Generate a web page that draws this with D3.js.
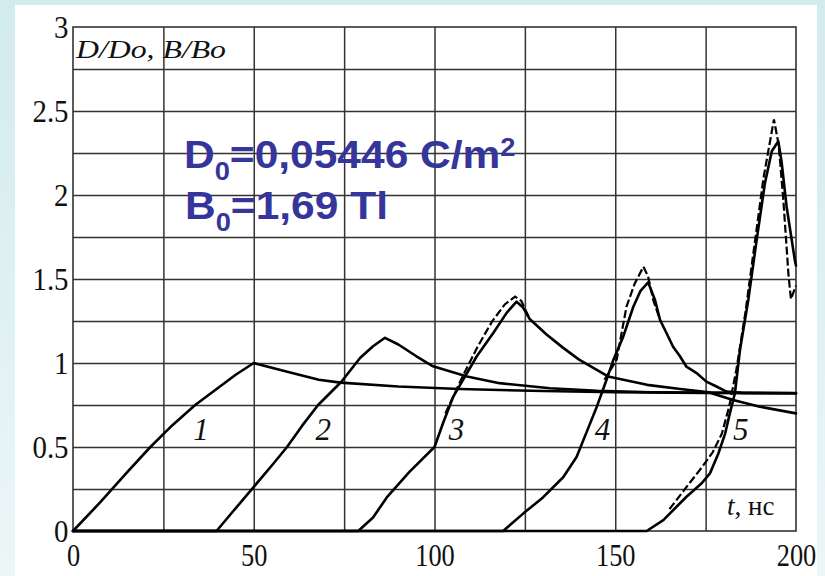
<!DOCTYPE html>
<html>
<head>
<meta charset="utf-8">
<script src="https://cdn.jsdelivr.net/npm/d3@7"></script>
<style>
  html, body { margin: 0; padding: 0; background: #fff; }
  svg { display: block; }
</style>
</head>
<body>
<svg id="chart" width="825" height="576"></svg>
<script>
// Normalised induction D/D0 and field B/B0 versus time t (ns), pulses 1..5
const xTicks = [0, 50, 100, 150, 200];
const yTicks = [0, 0.5, 1, 1.5, 2, 2.5, 3];
const curveNames = ["1", "2", "3", "4", "5"];

// solid curves: [t, value]
const curve1 = [[0,0],[7.5,0.17],[15,0.35],[21.4,0.5],[27.5,0.63],[33.8,0.75],[40,0.85],[45,0.93],[50,1.0],
  [59,0.95],[68,0.9],[74,0.883],[90,0.86],[107,0.845],[130,0.833],[150,0.826],[175,0.822],[200,0.82]];
const curve2 = [[0,0],[39.7,0],[44,0.11],[49.9,0.26],[55,0.39],[59.2,0.5],[63.5,0.63],[67.8,0.75],[74.3,0.89],
  [79.4,1.03],[83,1.1],[86.3,1.15],[90,1.11],[95,1.04],[99.6,0.98],[109,0.92],[118,0.88],[132,0.85],
  [145,0.835],[160,0.826],[200,0.82]];
const curve3 = [[0,0],[78.9,0],[83,0.08],[86.8,0.2],[93,0.35],[100,0.5],[102.5,0.65],[105.2,0.8],[107.9,0.9],
  [111.7,1.04],[116.3,1.18],[120,1.3],[122.7,1.365],[124.5,1.33],[126.4,1.26],[131,1.17],[135.6,1.09],
  [140,1.02],[148,0.92],[158.8,0.87],[168,0.845],[176,0.825],[182.6,0.78],[190,0.74],[200,0.7]];
const curve4 = [[0,0],[119,0],[124.6,0.105],[130,0.2],[135.6,0.32],[139.3,0.44],[142.1,0.59],[144.9,0.74],
  [147.6,0.9],[149.5,1.02],[152.2,1.157],[155,1.335],[157,1.43],[159.1,1.48],[161,1.375],[162.4,1.256],
  [164.2,1.177],[166,1.097],[167.9,1.04],[169.7,0.978],[172.5,0.94],[175.2,0.889],[178,0.86],[180.8,0.83],
  [185,0.822],[200,0.821]];
const curve5 = [[0,0],[158.7,0],[163.3,0.065],[169.7,0.204],[173.9,0.284],[176.2,0.343],[178.5,0.46],
  [180.4,0.58],[181.7,0.7],[183.1,0.82],[184.5,1.077],[186.8,1.375],[189.1,1.73],[191.4,2.07],[193.3,2.26],
  [195.1,2.32],[196,2.2],[197.4,1.93],[199.7,1.61],[200,1.58]];

// dashed companions where they separate from the solid curves
const dashed3 = [[103,0.7],[108,0.93],[112,1.1],[116,1.25],[119.5,1.35],[122.3,1.395],[124,1.37],[126.4,1.26]];
const dashed4 = [[147,0.9],[150.4,1.02],[153.1,1.335],[155.4,1.474],[157.8,1.573],[159.1,1.514],[160.5,1.375],[162.4,1.256]];
const dashed5 = [[165,0.13],[170,0.27],[174,0.38],[177,0.47],[179.5,0.58],[181.5,0.74],[183.5,0.96],
  [186,1.3],[188.5,1.7],[191,2.1],[193.9,2.45],[195.2,2.3],[196.5,1.97],[197.9,1.53],[198.6,1.38],
  [199.3,1.42],[200,1.46]];

const solidCurves = [curve1, curve2, curve3, curve4, curve5];
const dashedCurves = [dashed3, dashed4, dashed5];

// curve numbers placed next to the rising branches (t, value of baseline)
const curveLabelAt = [[35.4,0.54],[69.2,0.54],[106.1,0.54],[146.5,0.54],[184.7,0.54]];

const svg = d3.select("#chart");
const W = 825, H = 576;

// backdrop
const defs = svg.append("defs");
const g0 = defs.append("linearGradient").attr("id","bg").attr("x1",0).attr("y1",0).attr("x2",0).attr("y2",1);
g0.append("stop").attr("offset","0%").attr("stop-color","#d2ebee");
g0.append("stop").attr("offset","100%").attr("stop-color","#ecf6f7");
svg.append("rect").attr("width",W).attr("height",H).attr("fill","url(#bg)");
svg.append("rect").attr("x",15).attr("y",5).attr("width",802).attr("height",571).attr("fill","#fff");

const pLeft = 73, pRight = 796, pTop = 27, pBottom = 531;
const x = d3.scaleLinear().domain([0,200]).range([pLeft,pRight]);
const y = d3.scaleLinear().domain([0,3]).range([pBottom,pTop]);

const serif = "'Liberation Serif','Times New Roman',serif";
const gridColor = "#333";

// grid
const gridX = d3.range(25, 200, 25);
const gridY = d3.range(0.25, 3, 0.25);
svg.append("g").attr("transform",`translate(0,${pBottom})`)
  .call(d3.axisBottom(x).tickValues(gridX).tickSize(-(pBottom-pTop)).tickFormat(""))
  .call(g => g.select(".domain").remove())
  .call(g => g.selectAll("line").attr("stroke",gridColor).attr("stroke-width",1.5));
svg.append("g").attr("transform",`translate(${pLeft},0)`)
  .call(d3.axisLeft(y).tickValues(gridY).tickSize(-(pRight-pLeft)).tickFormat(""))
  .call(g => g.select(".domain").remove())
  .call(g => g.selectAll("line").attr("stroke",gridColor).attr("stroke-width",1.5));

// frame
svg.append("rect").attr("x",pLeft).attr("y",pTop).attr("width",pRight-pLeft).attr("height",pBottom-pTop)
  .attr("fill","none").attr("stroke",gridColor).attr("stroke-width",1.6);

// tick labels
svg.append("g").attr("transform",`translate(0,${pBottom})`)
  .call(d3.axisBottom(x).tickValues(xTicks).tickSize(0).tickPadding(13).tickFormat(d3.format("d")))
  .call(g => g.select(".domain").remove())
  .call(g => g.selectAll("text").attr("font-family",serif).attr("font-size",31).attr("fill","#111")
    .attr("transform","scale(0.85,1)"));
svg.append("g").attr("transform",`translate(${pLeft},0)`)
  .call(d3.axisLeft(y).tickValues(yTicks).tickSize(0).tickPadding(5).tickFormat(d3.format("")))
  .call(g => g.select(".domain").remove())
  .call(g => g.selectAll("text").attr("font-family",serif).attr("font-size",32).attr("fill","#111")
    .attr("dy","0.34em").attr("transform","scale(0.9,1)"));

// curves
const line = d3.line().x(d => x(d[0])).y(d => y(d[1]));
svg.append("g").selectAll("path").data(solidCurves).join("path")
  .attr("d", line).attr("fill","none").attr("stroke","#000").attr("stroke-width",2.6)
  .attr("stroke-linejoin","round").attr("stroke-linecap","round");
svg.append("g").selectAll("path").data(dashedCurves).join("path")
  .attr("d", line).attr("fill","none").attr("stroke","#000").attr("stroke-width",2.2)
  .attr("stroke-dasharray","8,3");

// curve numbers
svg.append("g").selectAll("text").data(curveNames).join("text")
  .attr("x",(d,i) => x(curveLabelAt[i][0])).attr("y",(d,i) => y(curveLabelAt[i][1]))
  .attr("text-anchor","middle").attr("font-family",serif).attr("font-style","italic")
  .attr("font-size",31).attr("fill","#111").text(d => d);

// axis titles inside the plot
svg.append("text").attr("x",76).attr("y",58).attr("font-family",serif).attr("font-style","italic")
  .attr("font-size",26).attr("fill","#111").attr("textLength",150).attr("lengthAdjust","spacingAndGlyphs")
  .text("D/Do, B/Bo");
const tl = svg.append("text").attr("x",727).attr("y",515).attr("font-family",serif)
  .attr("font-size",27).attr("fill","#111");
tl.append("tspan").attr("font-style","italic").text("t");
tl.append("tspan").text(", нс");

// reference constants
const blue = "#35359b";
const note = svg.append("g").attr("font-family","'Liberation Sans',Arial,sans-serif")
  .attr("font-weight","bold").attr("fill",blue);
const l1 = note.append("text").attr("transform","translate(184,168) scale(1.09,1)").attr("font-size",39);
l1.append("tspan").text("D");
l1.append("tspan").attr("font-size",25).attr("dy",12).text("0");
l1.append("tspan").attr("dy",-12).text("=0,05446 C/m");
l1.append("tspan").attr("font-size",25).attr("dy",-12).text("2");
const l2 = note.append("text").attr("transform","translate(185,219) scale(1.09,1)").attr("font-size",39);
l2.append("tspan").text("B");
l2.append("tspan").attr("font-size",25).attr("dy",12).text("0");
l2.append("tspan").attr("dy",-12).text("=1,69 Tl");
</script>
</body>
</html>
